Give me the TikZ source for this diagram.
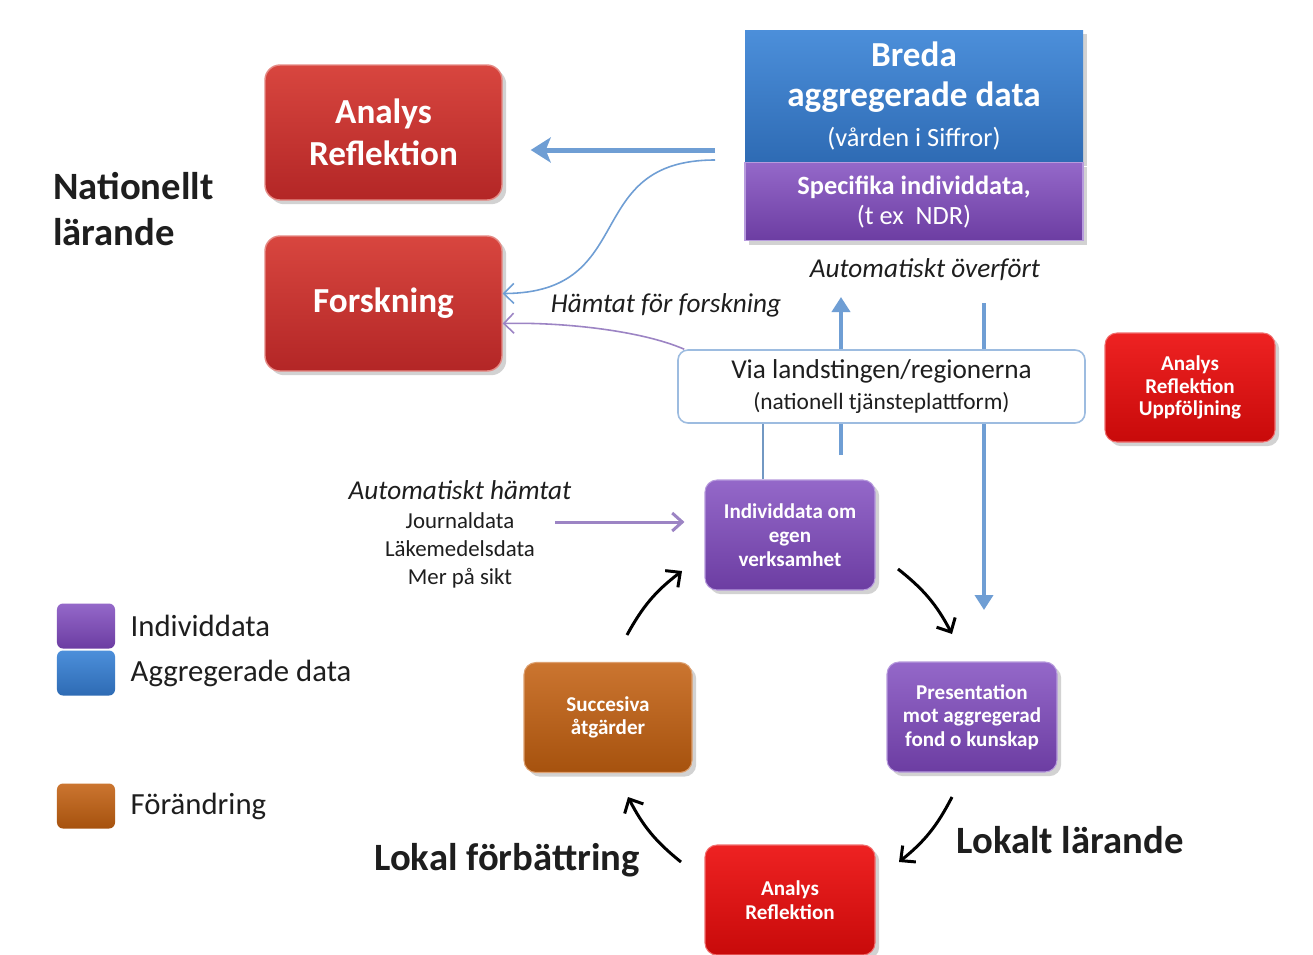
\documentclass[tikz,border=0pt]{standalone}
\usepackage{fontspec}
\setmainfont{Carlito}
\usepackage{xcolor}
\usetikzlibrary{positioning, arrows.meta, shadows, backgrounds}

\definecolor{redtop}{HTML}{D8463F}
\definecolor{redbot}{HTML}{B32626}
\definecolor{rededge}{HTML}{E58A85}
\definecolor{brighttop}{HTML}{EE2222}
\definecolor{brightbot}{HTML}{C80A0A}
\definecolor{brightedge}{HTML}{F07070}
\definecolor{purptop}{HTML}{9468C9}
\definecolor{purpbot}{HTML}{6C3DA2}
\definecolor{purpedge}{HTML}{B79BDD}
\definecolor{browntop}{HTML}{CB7530}
\definecolor{brownbot}{HTML}{A6520E}
\definecolor{brownedge}{HTML}{DDA070}
\definecolor{bluetop}{HTML}{4C8FDA}
\definecolor{bluebot}{HTML}{2E6BB4}
\definecolor{arrowblue}{HTML}{6F9ED4}
\definecolor{arrowpurp}{HTML}{9C84C4}
\definecolor{viaedge}{HTML}{9DBCE0}
\definecolor{txt}{HTML}{1E1E1E}

\newcommand{\fsz}[2]{\fontsize{#1}{#2}\selectfont}

\begin{document}
\begin{tikzpicture}[x=0.2mm, y=-0.2mm,
    box/.style={rounded corners=2.4mm, align=center, text=white, inner sep=1mm,
      minimum width=34mm, minimum height=22mm, font=\bfseries\fsz{12}{13.5},
      drop shadow={opacity=0.35}},
    bigbox/.style={box, rounded corners=3mm, minimum width=47.4mm,
      minimum height=27mm, font=\bfseries\fsz{20}{24}},
    redbox/.style={top color=redtop, bottom color=redbot, draw=rededge, line width=0.8pt},
    brightbox/.style={top color=brighttop, bottom color=brightbot, draw=brightedge, line width=0.6pt},
    purplebox/.style={top color=purptop, bottom color=purpbot, draw=purpedge, line width=0.6pt},
    brownbox/.style={top color=browntop, bottom color=brownbot, draw=brownedge, line width=0.6pt},
    bluebox/.style={top color=bluetop, bottom color=bluebot},
    legbox/.style={rounded corners=1.2mm, minimum width=11.6mm, minimum height=9mm, inner sep=0},
    legtext/.style={right=3mm of #1, inner sep=0, font=\fsz{17.5}{20}, text=txt},
    plaintext/.style={text=txt, align=center, inner sep=0},
    fatarrow/.style={line width=1mm, draw=arrowblue, -{Stealth[length=4mm, width=5mm, inset=1mm]}},
    thinarrow/.style={line width=0.9pt, -{Straight Barb[length=2mm, width=4mm]}},
    vertarrow/.style={line width=0.8mm, draw=arrowblue, -{Triangle[length=3mm, width=3.6mm]}},
    cyclearrow/.style={line width=0.6mm, black, -{Straight Barb[length=2.2mm, width=4.2mm]}}
  ]
  \useasboundingbox (0,0) rectangle (1313,955);

  % national level
  \node[bigbox, redbox] (analys) at (383.5,132.5) {Analys\\Reflektion};
  \node[bigbox, redbox] (forsk) at (383.5,303.5) {Forskning};
  \node[plaintext, align=left, anchor=west, font=\bfseries\fsz{22}{26}] (natl) at (53,209) {Nationellt\\lärande};

  \node[box, bluebox, rounded corners=0pt, minimum width=67.6mm, minimum height=26.4mm,
        font=\bfseries\fsz{20}{22.5}] (breda) at (914,96)
        {Breda\\aggregerade data\\{\mdseries\fsz{15}{19}(vården i Siffror)}};
  \node[box, purplebox, rounded corners=0pt, minimum width=67.6mm, minimum height=15.6mm,
        font=\bfseries\fsz{15}{17}, below=0pt of breda] (spec)
        {Specifika individdata,\\{\mdseries (t ex \ NDR)}};

  \node[plaintext, font=\itshape\fsz{15.5}{18}] (autoov) at (925,270) {Automatiskt överfört};
  \node[plaintext, font=\itshape\fsz{15.5}{18}] (hamtfor) at (666,305) {Hämtat för forskning};

  \node[box, brightbox, minimum height=21.8mm, font=\bfseries\fsz{12}{13}] (uppf) at (1190,387.5)
        {Analys\\Reflektion\\Uppföljning};

  \node[rounded corners=2mm, draw=viaedge, line width=0.9pt, fill=white, align=center,
        minimum width=81.4mm, minimum height=14.6mm, text=txt, font=\fsz{15.5}{17.5}] (via) at (881.5,386.5)
        {Via landstingen/regionerna\\{\fsz{13.3}{15}(nationell tjänsteplattform)}};

  % local cycle
  \node[box, purplebox] (indiv) at (790,535) {Individdata om\\egen\\verksamhet};
  \node[box, purplebox] (pres) at (972,717) {Presentation\\mot aggregerad\\fond o kunskap};
  \node[box, brightbox] (lokanalys) at (790,900) {Analys\\Reflektion};
  \node[box, brownbox, minimum width=33.6mm] (succ) at (608,717.5) {Succesiva\\åtgärder};

  \node[plaintext, font=\fsz{13}{16}] (hamtat) at (460,534.5)
        {{\itshape\fsz{15.5}{16}Automatiskt hämtat}\\Journaldata\\Läkemedelsdata\\Mer på sikt};

  \node[plaintext, font=\bfseries\fsz{22}{25}] (lokforb) at (507,860) {Lokal förbättring};
  \node[plaintext, font=\bfseries\fsz{22}{25}] (loklar) at (1070,840) {Lokalt lärande};

  % legend
  \node[legbox, top color=purptop, bottom color=purpbot] (leg1) at (86,626) {};
  \node[legbox, top color=bluetop, bottom color=bluebot] (leg2) at (86,673) {};
  \node[legbox, top color=browntop, bottom color=brownbot] (leg3) at (86,806) {};
  \node[legtext=leg1] {Individdata};
  \node[legtext=leg2] {Aggregerade data};
  \node[legtext=leg3] {Förändring};

  % free ends of the connectors
  \coordinate (fromdata) at (715,150);
  \coordinate (curvestart) at (715,160);
  \coordinate (upfoot) at (841,455);
  \coordinate (uphead) at (841,297);
  \coordinate (downfoot) at (984,303);
  \coordinate (downhead) at (984,610);
  \coordinate (hamtend) at (555,522);
  \coordinate (c1) at (898,569);
  \coordinate (c2) at (952,634);
  \coordinate (c3) at (952,797);
  \coordinate (c4) at (899,862);
  \coordinate (c5) at (681,862);
  \coordinate (c6) at (628,797);
  \coordinate (c7) at (627,635);
  \coordinate (c8) at (682,571);

  \begin{scope}[on background layer]
    \fill[white] (0,0) rectangle (1313,955);
    \draw[vertarrow] (upfoot) -- (uphead);
    \draw[vertarrow] (downfoot) -- (downhead);
    \draw[line width=0.9pt, draw=arrowblue!80!gray] ([xshift=-5.4mm]indiv.north) -- ([xshift=-5.4mm]indiv.north |- via.south);
  \end{scope}

  \draw[fatarrow, shorten >=5.6mm] (fromdata) -- (fromdata -| analys.east);
  \draw[thinarrow, draw=arrowblue] (curvestart) .. controls (580,160) and (640,293) .. ([yshift=2mm]forsk.east);
  \draw[thinarrow, draw=arrowpurp] ([xshift=1.4mm]via.north west) .. controls (640,330) and (560,322) .. ([yshift=-4mm]forsk.east);
  \draw[line width=0.6mm, draw=arrowpurp, -{Straight Barb[length=2mm, width=3.6mm]}, shorten >=4mm] (hamtend) -- (hamtend -| indiv.west);

  \path[cyclearrow]
    (c1) edge [bend left=12] (c2)
    (c3) edge [bend left=12] (c4)
    (c5) edge [bend left=12] (c6)
    (c7) edge [bend left=12] (c8);
\end{tikzpicture}
\end{document}
